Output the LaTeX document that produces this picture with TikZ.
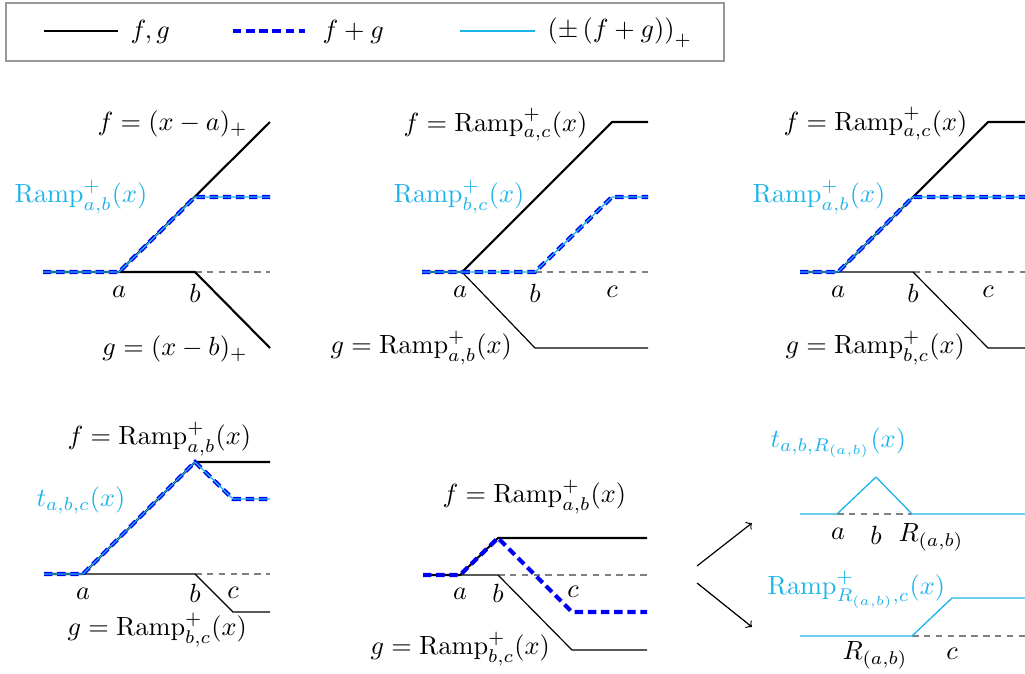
\documentclass[tikz,border=0pt]{standalone}
\usepackage{amsmath}
\definecolor{rampc}{RGB}{30,180,235}
\definecolor{fgblue}{RGB}{0,0,245}
\tikzset{
  fgline/.style={black, line width=0.8pt, line join=round},
  gthin/.style={black, line width=0.45pt, line join=round},
  sumline/.style={fgblue, line width=1.6pt, dash pattern=on 3.2pt off 1.8pt},
  posline/.style={rampc, line width=0.5pt, line join=round},
  baseline0/.style={gray, line width=0.4pt, dash pattern=on 2.5pt off 2pt},
  lbl/.style={inner sep=0pt},
  clbl/.style={inner sep=0pt, text=rampc},
}
\begin{document}
\begin{tikzpicture}[x=0.38pt, y=-0.38pt]
\useasboundingbox (0,0) rectangle (1025,673);

% legend
\node[draw=gray!80, line width=0.5pt, minimum width=718*0.38pt, minimum height=58*0.38pt, inner sep=0pt] (legend) at (365,32) {};
\coordinate (l1a) at (44,31); \coordinate (l1b) at (118,31);
\coordinate (l2a) at (233,31); \coordinate (l2b) at (305,31);
\coordinate (l3a) at (460,31); \coordinate (l3b) at (535,31);
\draw[gthin, line width=0.6pt] (l1a) -- (l1b);
\draw[sumline] (l2a) -- (l2b);
\draw[posline, line width=0.7pt] (l3a) -- (l3b);
\node[lbl, anchor=west] (lt1) at (130,32) {$f,g$};
\node[lbl, anchor=west] (lt2) at (322,32) {$f+g$};
\node[lbl, anchor=west] (lt3) at (547,33) {$\left(\pm\left(f+g\right)\right)_+$};

% panel 1
\draw[baseline0] (195,272) -- (270,272);
\draw[fgline] (43,272) -- (119,272) -- (270,122);
\draw[fgline] (119,272) -- (195,272) -- (270,348);
\draw[sumline] (43,272) -- (119,272) -- (195,197) -- (270,197);
\draw[posline] (43,272) -- (119,272) -- (195,197) -- (270,197);
\node[lbl, anchor=east] (p1f) at (248,124) {$f=(x-a)_+$};
\node[clbl, anchor=west] (p1r) at (14,197) {$\mathrm{Ramp}^+_{a,b}(x)$};
\node[lbl] (p1a) at (119,292) {$a$};
\node[lbl] (p1b) at (195,293) {$b$};
\node[lbl, anchor=east] (p1g) at (248,349) {$g=(x-b)_+$};

% panel 2
\draw[baseline0] (535,272) -- (648,272);
\draw[fgline] (422,272) -- (462,272) -- (612,122) -- (648,122);
\draw[gthin] (462,272) -- (535,348) -- (648,348);
\draw[sumline] (422,272) -- (535,272) -- (612,197) -- (648,197);
\draw[posline] (422,272) -- (535,272) -- (612,197) -- (648,197);
\node[lbl, anchor=east] (p2f) at (588,125) {$f=\mathrm{Ramp}^+_{a,c}(x)$};
\node[clbl, anchor=west] (p2r) at (393,197) {$\mathrm{Ramp}^+_{b,c}(x)$};
\node[lbl] (p2a) at (460,292) {$a$};
\node[lbl] (p2b) at (535,293) {$b$};
\node[lbl] (p2c) at (612,292) {$c$};
\node[lbl, anchor=west] (p2g) at (330,348) {$g=\mathrm{Ramp}^+_{a,b}(x)$};

% panel 3
\draw[baseline0] (913,272) -- (1025,272);
\draw[fgline] (800,272) -- (838,272) -- (988,122) -- (1025,122);
\draw[gthin] (838,272) -- (913,272) -- (988,348) -- (1025,348);
\draw[sumline] (800,272) -- (838,272) -- (913,197) -- (1025,197);
\draw[posline] (800,272) -- (838,272) -- (913,197) -- (1025,197);
\node[lbl, anchor=west] (p3f) at (783,124) {$f=\mathrm{Ramp}^+_{a,c}(x)$};
\node[clbl, anchor=west] (p3r) at (752,197) {$\mathrm{Ramp}^+_{a,b}(x)$};
\node[lbl] (p3a) at (838,292) {$a$};
\node[lbl] (p3b) at (913,293) {$b$};
\node[lbl] (p3c) at (988,292) {$c$};
\node[lbl, anchor=west] (p3g) at (785,348) {$g=\mathrm{Ramp}^+_{b,c}(x)$};

% panel 4
\draw[baseline0] (195,574) -- (270,574);
\draw[fgline] (44,574) -- (83,574) -- (195,462) -- (270,462);
\draw[gthin] (83,574) -- (195,574) -- (233,612) -- (270,612);
\draw[sumline] (44,574) -- (83,574) -- (195,462) -- (233,499) -- (270,499);
\draw[posline] (44,574) -- (83,574) -- (195,462) -- (233,499) -- (270,499);
\node[lbl, anchor=west] (p4f) at (67,439) {$f=\mathrm{Ramp}^+_{a,b}(x)$};
\node[clbl, anchor=west] (p4t) at (36,500) {$t_{a,b,c}(x)$};
\node[lbl] (p4a) at (83,594) {$a$};
\node[lbl] (p4b) at (195,593) {$b$};
\node[lbl] (p4c) at (233,593) {$c$};
\node[lbl, anchor=west] (p4g) at (67,630) {$g=\mathrm{Ramp}^+_{b,c}(x)$};

% panel 5
\draw[baseline0] (498,575) -- (647,575);
\draw[fgline] (423,575) -- (460,575) -- (498,538) -- (647,538);
\draw[gthin] (460,575) -- (498,575) -- (572,650) -- (647,650);
\draw[sumline] (423,575) -- (460,575) -- (498,538) -- (572,612) -- (647,612);
\node[lbl, anchor=west] (p5f) at (442,497) {$f=\mathrm{Ramp}^+_{a,b}(x)$};
\node[lbl] (p5a) at (460,594) {$a$};
\node[lbl] (p5b) at (498,593) {$b$};
\node[lbl] (p5c) at (573,592) {$c$};
\node[lbl, anchor=west] (p5g) at (370,649) {$g=\mathrm{Ramp}^+_{b,c}(x)$};

% panel 6
\coordinate (ar0) at (697,566); \coordinate (ar1) at (752,523);
\coordinate (ar2) at (697,583); \coordinate (ar3) at (752,627);
\draw[gthin, ->] (ar0) -- (ar1);
\draw[gthin, ->] (ar2) -- (ar3);
\draw[baseline0] (837,514) -- (912,514);
\draw[posline] (800,514) -- (837,514) -- (876,477) -- (912,514) -- (1025,514);
\draw[baseline0] (912,636) -- (1025,636);
\draw[posline] (800,636) -- (912,636) -- (952,598) -- (1025,598);
\node[clbl, anchor=west] (p6t) at (770,443) {$t_{a,b,R_{(a,b)}}(x)$};
\node[lbl] (p6a) at (838,534) {$a$};
\node[lbl] (p6b) at (876,535) {$b$};
\node[lbl] (p6R) at (931,537) {$R_{(a,b)}$};
\node[clbl, anchor=west] (p6r) at (767,590) {$\mathrm{Ramp}^+_{R_{(a,b)},c}(x)$};
\node[lbl] (p6R2) at (875,655) {$R_{(a,b)}$};
\node[lbl] (p6c) at (952,654) {$c$};
\end{tikzpicture}
\end{document}
